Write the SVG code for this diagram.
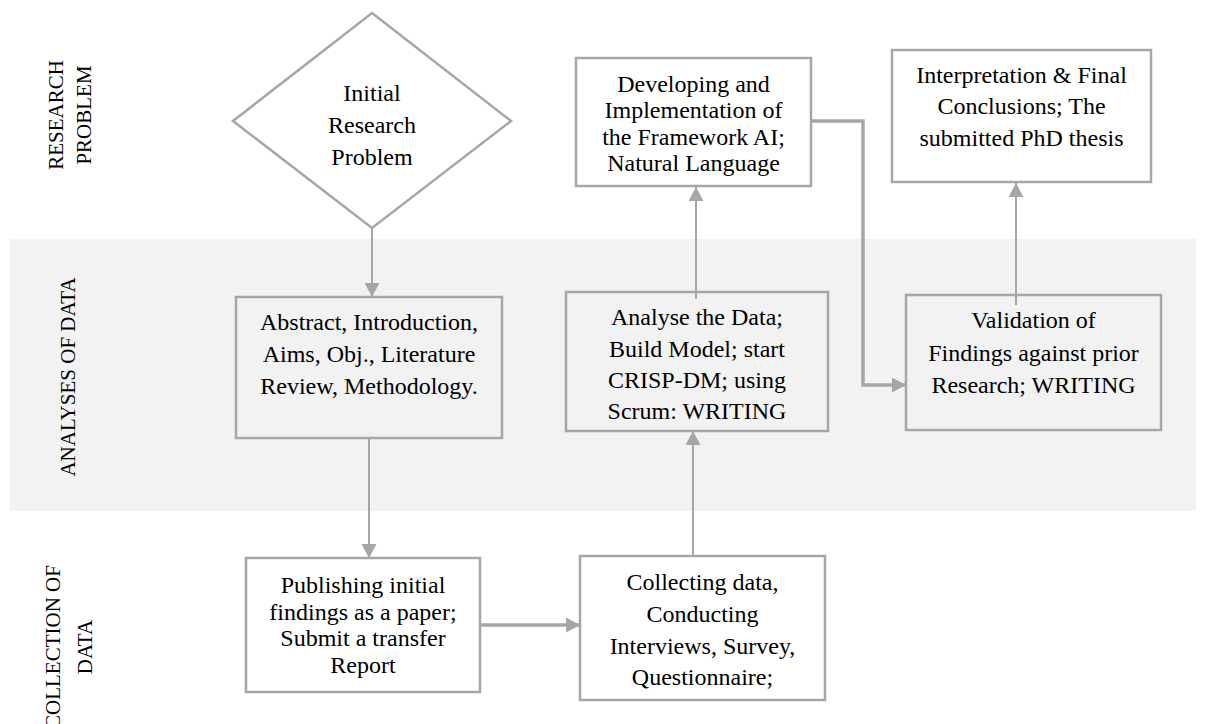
<svg xmlns="http://www.w3.org/2000/svg" width="1208" height="724" viewBox="0 0 1208 724">
  <style>
    .box { fill: none; stroke: #a6a6a6; stroke-width: 2.5; }
    .boxw { fill: #ffffff; stroke: #a6a6a6; stroke-width: 2.5; }
    .lbl { font-size: 24px; fill: #000; text-anchor: middle; }
    .lane { font-size: 21px; fill: #000; text-anchor: middle; }
    .conn { fill: none; stroke: #a6a6a6; stroke-width: 2; }
    .thick { stroke-width: 3.5; }
  </style>
  <defs>
    <marker id="arrow" markerUnits="userSpaceOnUse" markerWidth="15" markerHeight="15" refX="14" refY="7.5" orient="auto">
      <path d="M0,0 L14,7.5 L0,15 z" fill="#a6a6a6"/>
    </marker>
    <clipPath id="clipDev">
      <rect x="576" y="58" width="235" height="118"/>
    </clipPath>
  </defs>

  <!-- middle swim lane background -->
  <rect id="lane-band" x="10" y="239" width="1186" height="272" fill="#f2f2f2"/>

  <g font-family="Liberation Serif, Times New Roman, Times, Noto Serif, FreeSerif, Nimbus Roman, DejaVu Serif, Georgia, serif">
  <!-- lane titles -->
  <g id="lane-research">
    <text class="lane" transform="translate(63,115) rotate(-90)">RESEARCH</text>
    <text class="lane" transform="translate(91,115) rotate(-90)">PROBLEM</text>
  </g>
  <g id="lane-analyses">
    <text class="lane" transform="translate(75,377) rotate(-90)">ANALYSES OF DATA</text>
  </g>
  <g id="lane-collection">
    <text class="lane" transform="translate(60,647) rotate(-90)">COLLECTION OF</text>
    <text class="lane" transform="translate(92,647) rotate(-90)">DATA</text>
  </g>

  <!-- connectors -->
  <g id="connectors">
    <line class="conn" x1="372" y1="228" x2="372" y2="297" marker-end="url(#arrow)"/>
    <line class="conn" x1="369" y1="438" x2="369" y2="558" marker-end="url(#arrow)"/>
    <line class="conn thick" x1="480" y1="625" x2="580" y2="625" marker-end="url(#arrow)"/>
    <line class="conn" x1="693" y1="556" x2="693" y2="431" marker-end="url(#arrow)"/>
    <line class="conn" x1="696" y1="299" x2="696" y2="187" marker-end="url(#arrow)"/>
    <polyline class="conn thick" points="811,121 863,121 863,385 906,385" marker-end="url(#arrow)"/>
    <line class="conn" x1="1016" y1="305" x2="1016" y2="183" marker-end="url(#arrow)"/>
  </g>

  <!-- nodes -->
  <g id="node-initial">
    <polygon class="boxw" points="372,13 511,121 372,228 233,121"/>
    <text class="lbl" x="372" y="101">Initial</text>
    <text class="lbl" x="372" y="133">Research</text>
    <text class="lbl" x="372" y="165">Problem</text>
  </g>

  <g id="node-abstract">
    <rect class="box" x="236" y="297" width="266" height="141"/>
    <text class="lbl" x="369" y="330">Abstract, Introduction,</text>
    <text class="lbl" x="369" y="362">Aims, Obj., Literature</text>
    <text class="lbl" x="369" y="394">Review, Methodology.</text>
  </g>

  <g id="node-publishing">
    <rect class="boxw" x="246" y="558" width="234" height="134"/>
    <text class="lbl" x="363" y="593">Publishing initial</text>
    <text class="lbl" x="363" y="620">findings as a paper;</text>
    <text class="lbl" x="363" y="646">Submit a transfer</text>
    <text class="lbl" x="363" y="673">Report</text>
  </g>

  <g id="node-collecting">
    <rect class="boxw" x="580" y="556" width="245" height="144"/>
    <text class="lbl" x="702.5" y="590">Collecting data,</text>
    <text class="lbl" x="702.5" y="622">Conducting</text>
    <text class="lbl" x="702.5" y="654">Interviews, Survey,</text>
    <text class="lbl" x="702.5" y="685">Questionnaire;</text>
  </g>

  <g id="node-analyse">
    <rect class="box" x="566" y="292" width="262" height="139"/>
    <text class="lbl" x="697" y="325">Analyse the Data;</text>
    <text class="lbl" x="697" y="357">Build Model; start</text>
    <text class="lbl" x="697" y="388">CRISP-DM; using</text>
    <text class="lbl" x="697" y="419">Scrum: WRITING</text>
  </g>

  <g id="node-developing">
    <rect class="boxw" x="576" y="58" width="235" height="128"/>
    <g clip-path="url(#clipDev)">
      <text class="lbl" x="693.5" y="92">Developing and</text>
      <text class="lbl" x="693.5" y="118">Implementation of</text>
      <text class="lbl" x="693.5" y="145">the Framework AI;</text>
      <text class="lbl" x="693.5" y="171">Natural Language</text>
    </g>
  </g>

  <g id="node-validation">
    <rect class="box" x="906" y="295" width="255" height="135"/>
    <text class="lbl" x="1033.5" y="328">Validation of</text>
    <text class="lbl" x="1033.5" y="361">Findings against prior</text>
    <text class="lbl" x="1033.5" y="393">Research; WRITING</text>
  </g>

  <g id="node-interpretation">
    <rect class="boxw" x="892" y="50" width="259" height="132"/>
    <text class="lbl" x="1021.5" y="83">Interpretation &amp; Final</text>
    <text class="lbl" x="1021.5" y="114">Conclusions; The</text>
    <text class="lbl" x="1021.5" y="146">submitted PhD thesis</text>
  </g>
  </g>
</svg>
